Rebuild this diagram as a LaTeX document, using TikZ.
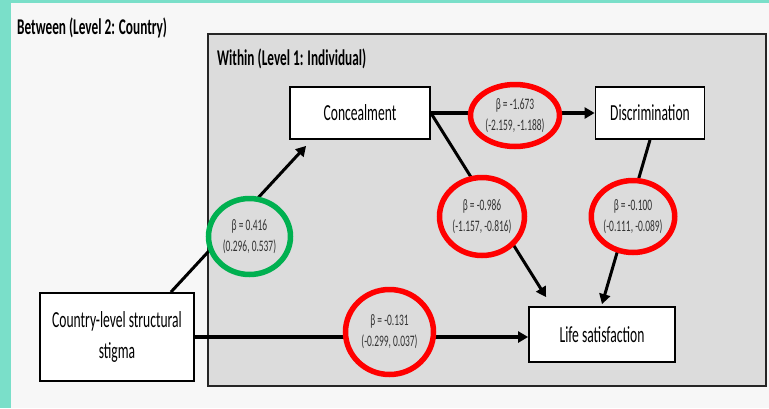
\documentclass[tikz,border=0pt]{standalone}
\usepackage{fontspec}
\setmainfont{Carlito}[FakeStretch=0.59]
\usetikzlibrary{arrows.meta,shapes.geometric}
\definecolor{tealband}{HTML}{7ADFC9}
\definecolor{bggray}{HTML}{F7F7F7}
\definecolor{panelgray}{HTML}{DCDCDC}
\definecolor{okgreen}{HTML}{00B050}
\tikzset{
  varbox/.style={draw=black,line width=1.8pt,fill=white,inner sep=0pt,font=\fontsize{23}{31}\selectfont},
  est/.style={ellipse,draw=red,line width=5.5pt,fill=panelgray,inner sep=0pt,align=center,text=black!80,font=\fontsize{16}{21}\selectfont},
  link/.style={->,line width=3pt},
  levtitle/.style={anchor=west,inner sep=0pt,font=\bfseries\fontsize{22.5}{25}\selectfont}
}
\begin{document}
\begin{tikzpicture}[x=1pt,y=-1pt,>={Triangle[length=10pt,width=11pt]}]
%Nen
\useasboundingbox (0,0) rectangle (769,408);
\fill[tealband] (0,0) rectangle (769,408);
\fill[bggray] (11,3) rectangle (769,408);
\node[levtitle] (between) at (17,28) {Between (Level 2: Country)};
%Khung trong
\draw[line width=2.5pt,draw=black!85,fill=panelgray] (208,34) rectangle (766,386);
\node[levtitle] (within) at (217,59) {Within (Level 1: Individual)};
%Hop
\node[varbox,minimum width=140pt,minimum height=52pt] (conc) at (360,113) {Concealment};
\node[varbox,minimum width=109pt,minimum height=52pt] (disc) at (650,113) {Discrimination};
\node[varbox,minimum width=146pt,minimum height=55pt] (life) at (602,334.5) {Life satisfaction};
\node[varbox,minimum width=154pt,minimum height=88pt,align=center] (country) at (117,337) {Country-level structural\\stigma};
%Mui ten
\draw[link] ([xshift=-24pt]country.north east) -- ([xshift=17pt,yshift=-6pt]conc.south west);
\draw[link,line width=3.5pt] (conc.east) -- (disc.west);
\draw[link] (conc.east) -- ([xshift=18pt,yshift=9pt]life.north west);
\draw[link] (disc.south) -- ([yshift=2pt]life.north);
\draw[link,line width=3.5pt] (country.east) -- (country.east -| life.west);
%He so
\node[est,draw=okgreen,minimum width=82pt,minimum height=76pt] (b1) at (249.5,236.5) {β = 0.416\\(0.296, 0.537)};
\node[est,minimum width=89pt,minimum height=62pt] (b2) at (515,115.5) {β = -1.673\\(-2.159, -1.188)};
\node[est,minimum width=85pt,minimum height=78pt] (b3) at (482,216.5) {β = -0.986\\(-1.157, -0.816)};
\node[est,minimum width=80pt,minimum height=72pt] (b4) at (633,216.5) {β = -0.100\\(-0.111, -0.089)};
\node[est,minimum width=88pt,minimum height=85pt] (b5) at (389.5,332) {β = -0.131\\(-0.299, 0.037)};
\end{tikzpicture}
\end{document}
